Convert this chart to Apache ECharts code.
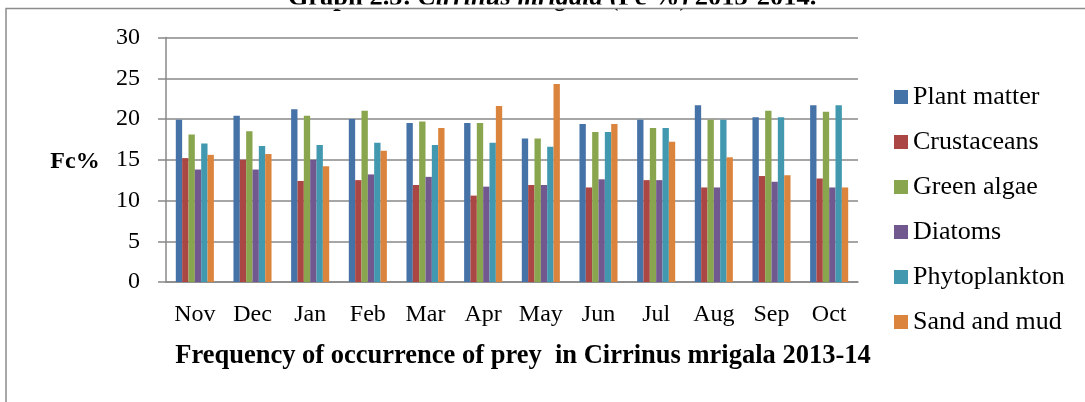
<!DOCTYPE html>
<html>
<head>
<meta charset="utf-8">
<script src="https://cdn.jsdelivr.net/npm/echarts@6/dist/echarts.min.js"></script>
<style>
  html, body { margin: 0; padding: 0; background: #fff; }
  #chart_con { width: 1085px; height: 402px; }
</style>
</head>
<body>
<div id="chart_con"></div>
<script>
    // months on the x axis
    var months = ['Nov', 'Dec', 'Jan', 'Feb', 'Mar', 'Apr', 'May', 'Jun', 'Jul', 'Aug', 'Sep', 'Oct'];
    var yTicks = [0, 5, 10, 15, 20, 25, 30];

    // Fc% values
    var plantMatter  = [19.9, 20.4, 21.2, 20.0, 19.5, 19.5, 17.6, 19.4, 19.9, 21.7, 20.2, 21.7];
    var crustaceans  = [15.2, 15.0, 12.4, 12.5, 11.9, 10.6, 11.9, 11.6, 12.5, 11.6, 13.0, 12.7];
    var greenAlgae   = [18.1, 18.5, 20.4, 21.0, 19.7, 19.5, 17.6, 18.4, 18.9, 19.9, 21.0, 20.9];
    var diatoms      = [13.8, 13.8, 15.0, 13.2, 12.9, 11.7, 11.9, 12.6, 12.5, 11.6, 12.3, 11.6];
    var phytoplankton= [17.0, 16.7, 16.8, 17.1, 16.8, 17.1, 16.6, 18.4, 18.9, 19.9, 20.2, 21.7];
    var sandAndMud   = [15.6, 15.7, 14.2, 16.1, 18.9, 21.6, 24.3, 19.4, 17.2, 15.3, 13.1, 11.6];

    var seriesNames = ['Plant matter', 'Crustaceans', 'Green algae', 'Diatoms', 'Phytoplankton', 'Sand and mud'];
    var seriesData = [plantMatter, crustaceans, greenAlgae, diatoms, phytoplankton, sandAndMud];
    var colors = ['#4572A7', '#AA4643', '#89A54E', '#71588F', '#4198AF', '#DB843D'];

    var font = '"Liberation Serif", "DejaVu Serif", serif';
    var gridColor = '#888888';

    var series = [];
    for (var i = 0; i < seriesNames.length; i++) {
        series.push({
            name: seriesNames[i],
            type: 'bar',
            data: seriesData[i],
            barGap: '0%',
            barCategoryGap: '34%',
            itemStyle: { color: colors[i] }
        });
    }

    var chart = echarts.init(document.getElementById('chart_con'));
    var option = {
        animation: false,
        color: colors,
        textStyle: { fontFamily: font },
        grid: { left: 166, right: 227, top: 37.5, bottom: 120 },
        legend: {
            orient: 'vertical',
            left: 889,
            top: 79,
            itemWidth: 14,
            itemHeight: 14,
            itemGap: 19,
            icon: 'rect',
            textStyle: { fontFamily: font, fontSize: 26, color: '#000', lineHeight: 26 },
            data: seriesNames
        },
        xAxis: {
            type: 'category',
            data: months,
            axisLine: { lineStyle: { color: gridColor, width: 1.5 } },
            axisTick: { show: false },
            axisLabel: { color: '#000', fontSize: 24, fontFamily: font, margin: 21 }
        },
        yAxis: {
            type: 'value',
            min: yTicks[0],
            max: yTicks[yTicks.length - 1],
            interval: 5,
            axisLine: { show: true, lineStyle: { color: gridColor, width: 1.5 } },
            axisTick: { show: true, length: 8, lineStyle: { color: gridColor, width: 1.5 } },
            axisLabel: { color: '#000', fontSize: 24, fontFamily: font, margin: 26 },
            splitLine: { lineStyle: { color: gridColor, width: 1.5 } }
        },
        graphic: [
            {
                // title sits mostly above the page edge, cut flat just under the visible part
                type: 'text',
                x: 552,
                y: 12,
                style: {
                    text: '{a|Graph 2.5: }{b|Cirrinus mrigala}{a| (Fc %) 2013-2014.}',
                    align: 'center',
                    verticalAlign: 'bottom',
                    rich: {
                        a: { fontFamily: font, fontSize: 26.5, fontWeight: 'bold', fill: '#000' },
                        b: { fontFamily: font, fontSize: 26.5, fontWeight: 'bold', fontStyle: 'italic', fill: '#000' }
                    }
                }
            },
            {
                type: 'rect',
                shape: { x: 0, y: 4.5, width: 1085, height: 4.5 },
                style: { fill: '#fff' },
                silent: true
            },
            {
                type: 'rect',
                shape: { x: 6, y: 8.5, width: 1100, height: 420 },
                style: { fill: 'none', stroke: '#8c8c8c', lineWidth: 1.5 },
                silent: true
            },
            {
                type: 'text',
                x: 75,
                y: 162,
                style: {
                    text: 'Fc%',
                    fontFamily: font, fontSize: 24, fontWeight: 'bold', fill: '#000',
                    align: 'center', verticalAlign: 'middle'
                }
            },
            {
                type: 'text',
                x: 523,
                y: 356,
                style: {
                    text: 'Frequency of occurrence of prey  in Cirrinus mrigala 2013-14',
                    fontFamily: font, fontSize: 26.5, fontWeight: 'bold', fill: '#000',
                    align: 'center', verticalAlign: 'middle'
                }
            }
        ],
        series: series
    };
    chart.setOption(option);
</script>
</body>
</html>
